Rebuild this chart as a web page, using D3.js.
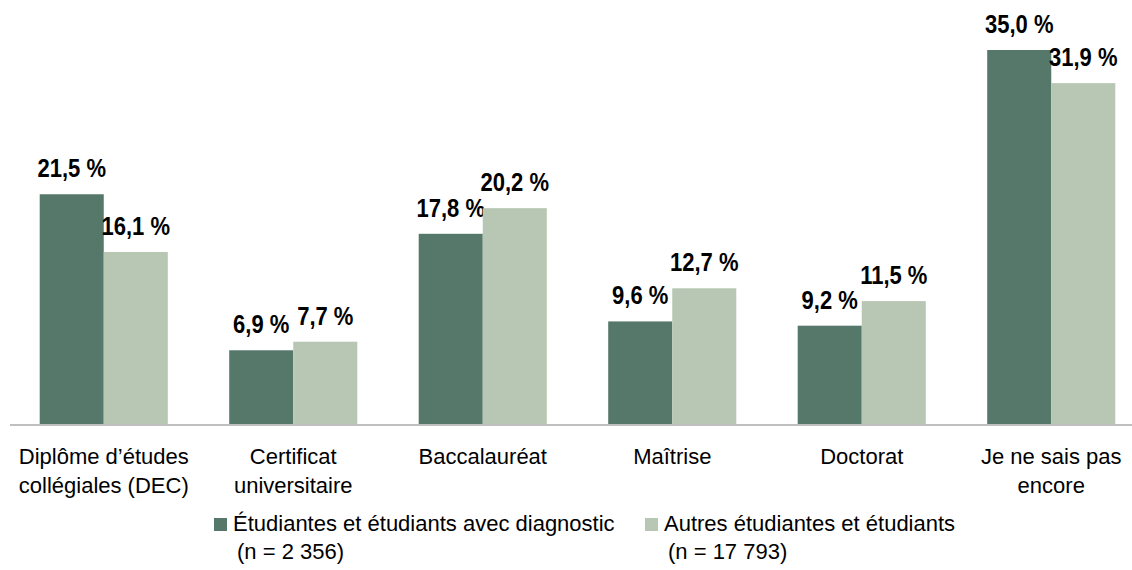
<!DOCTYPE html>
<html>
<head>
<meta charset="utf-8">
<script src="https://cdn.jsdelivr.net/npm/d3@7"></script>
<style>
  body { margin: 0; background: #fff; }
  svg text { font-family: "Liberation Sans", Arial, sans-serif; }
</style>
</head>
<body>
<div id="chart"></div>
<script>
// categories (multi-line labels)
var categories = [
    ["Diplôme d’études", "collégiales (DEC)"],
    ["Certificat", "universitaire"],
    ["Baccalauréat"],
    ["Maîtrise"],
    ["Doctorat"],
    ["Je ne sais pas", "encore"]
];
var seriesNames = [
    ["Étudiantes et étudiants avec diagnostic", "(n = 2 356)"],
    ["Autres étudiantes et étudiants", "(n = 17 793)"]
];
var withDiagnostic = [21.5, 6.9, 17.8, 9.6, 9.2, 35.0];
var otherStudents = [16.1, 7.7, 20.2, 12.7, 11.5, 31.9];
var colors = ["#56786b", "#b8c6b4"];

var width = 1132, height = 570;
var baseY = 424;

var svg = d3.select("#chart").append("svg")
    .attr("width", width)
    .attr("height", height);

// group scale (range runs past the right edge like the original)
var x0 = d3.scaleBand()
    .domain(d3.range(categories.length))
    .range([9, 1146])
    .paddingInner(0.324)
    .paddingOuter(0.162);

var x1 = d3.scaleBand()
    .domain([0, 1])
    .range([0, x0.bandwidth()]);

var y = d3.scaleLinear()
    .domain([0, 35])
    .range([baseY, 50]);

var series = [withDiagnostic, otherStudents];
var fmt = function (v) { return v.toFixed(1).replace(".", ",") + " %"; };

// bars + value labels
series.forEach(function (vals, s) {
    var g = svg.append("g");
    g.selectAll("rect")
        .data(vals)
        .enter()
        .append("rect")
        .attr("x", function (d, i) { return x0(i) + x1(s); })
        .attr("y", function (d) { return y(d); })
        .attr("width", x1.bandwidth())
        .attr("height", function (d) { return baseY - y(d); })
        .attr("fill", colors[s]);

    // narrow-ish bold labels (condensed look of the original)
    g.selectAll("text")
        .data(vals)
        .enter()
        .append("text")
        .attr("transform", function (d, i) {
            return "translate(" + (x0(i) + x1(s) + x1.bandwidth() / 2) + "," + (y(d) - 17) + ") scale(0.88,1)";
        })
        .attr("text-anchor", "middle")
        .attr("font-size", 25)
        .attr("font-weight", "bold")
        .attr("fill", "#000")
        .text(fmt);
});

// baseline
svg.append("line")
    .attr("x1", 10).attr("x2", width)
    .attr("y1", baseY + 1).attr("y2", baseY + 1)
    .attr("stroke", "#bfbfbf")
    .attr("stroke-width", 2);

// category labels
var cat = svg.append("g").selectAll("text")
    .data(categories)
    .enter()
    .append("text")
    .attr("text-anchor", "middle")
    .attr("font-size", 22)
    .attr("fill", "#000")
    .attr("transform", function (d, i) { return "translate(" + (x0(i) + x0.bandwidth() / 2) + ",464)"; });
cat.selectAll("tspan")
    .data(function (d) { return d; })
    .enter()
    .append("tspan")
    .attr("x", 0)
    .attr("y", function (d, j) { return j * 29; })
    .text(function (d) { return d; });

// legend
var legendX = [214, 645];
seriesNames.forEach(function (name, s) {
    var g = svg.append("g").attr("transform", "translate(" + legendX[s] + ",0)");
    g.append("rect")
        .attr("x", 0).attr("y", 518)
        .attr("width", 13).attr("height", 13)
        .attr("fill", colors[s]);
    g.append("text")
        .attr("x", 19).attr("y", 531)
        .attr("font-size", 22)
        .text(name[0]);
    g.append("text")
        .attr("x", 23).attr("y", 559)
        .attr("font-size", 22)
        .text(name[1]);
});
</script>
</body>
</html>
